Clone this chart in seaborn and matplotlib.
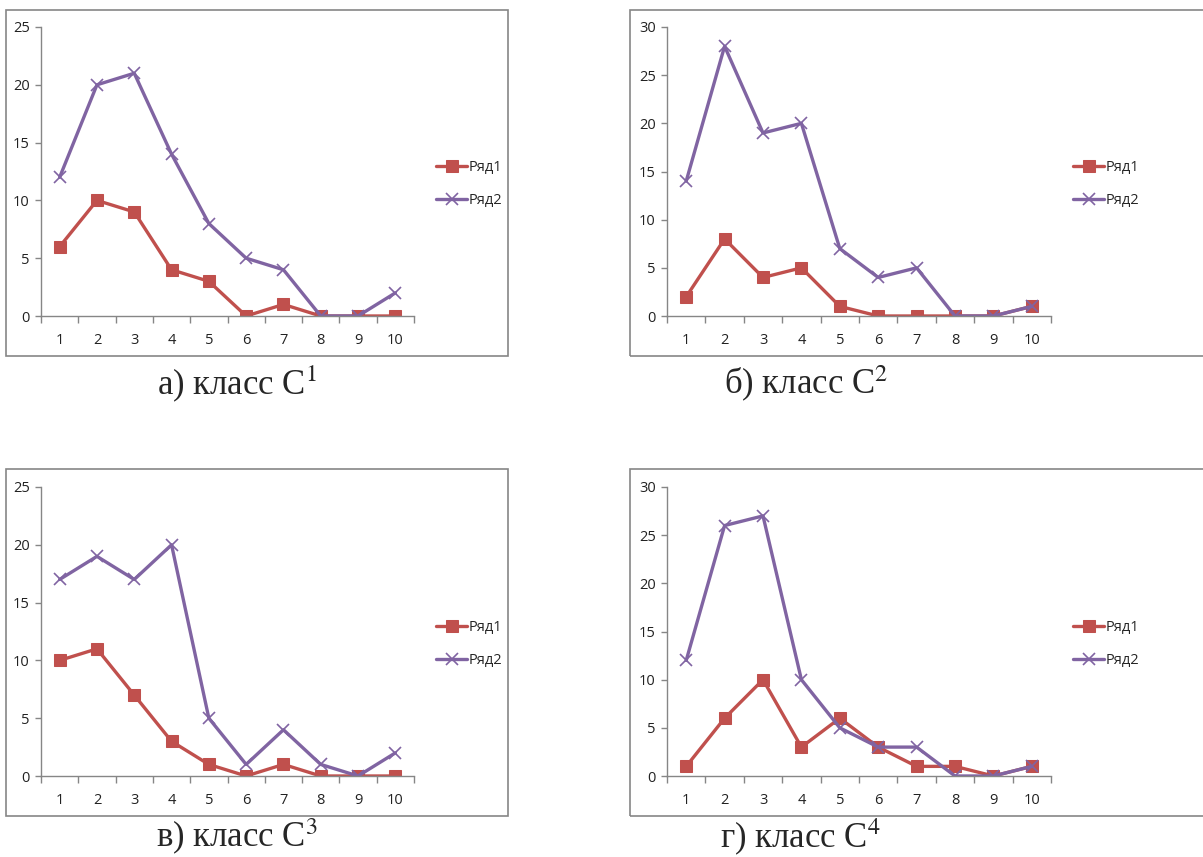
import numpy as np
import pandas as pd
import seaborn as sns
import matplotlib.pyplot as plt
from matplotlib.patches import Rectangle

# Values (classes C1..C4), x = 1..10
x_vals = list(range(1, 11))
c1_r1 = [6, 10, 9, 4, 3, 0, 1, 0, 0, 0]
c1_r2 = [12, 20, 21, 14, 8, 5, 4, 0, 0, 2]
c2_r1 = [2, 8, 4, 5, 1, 0, 0, 0, 0, 1]
c2_r2 = [14, 28, 19, 20, 7, 4, 5, 0, 0, 1]
c3_r1 = [10, 11, 7, 3, 1, 0, 1, 0, 0, 0]
c3_r2 = [17, 19, 17, 20, 5, 1, 4, 1, 0, 2]
c4_r1 = [1, 6, 10, 3, 6, 3, 1, 1, 0, 1]
c4_r2 = [12, 26, 27, 10, 5, 3, 3, 0, 0, 1]
y_max = [25, 30, 25, 30]
captions = ["а) класс C$^{1}$", "б) класс C$^{2}$", "в) класс C$^{3}$", "г) класс C$^{4}$"]
series_names = ["Ряд1", "Ряд2"]

RED = "#C0504D"
PURPLE = "#8064A2"
GREY = "#868686"

W, H = 1203, 857

sns.set_theme(style="white")
plt.rcParams["font.family"] = ["Open Sans", "DejaVu Sans"]
plt.rcParams["mathtext.fontset"] = "stix"


def fx(px):
    return px / W


def fy(py):
    return 1 - py / H


fig = plt.figure(figsize=(W / 100, H / 100), dpi=100)

# panel layout in pixels: (axes left, axes right, axes top, axes bottom, frame box, caption center)
panels = [
    (41, 414, 27, 316, (6, 10, 508, 356), (237, 384)),
    (667, 1051, 27, 316, (630, 10, 1215, 356), (806, 384)),
    (41, 414, 487, 776, (6, 469, 508, 816), (237, 837)),
    (667, 1051, 487, 776, (630, 469, 1215, 816), (800, 837)),
]
data_sets = [(c1_r1, c1_r2), (c2_r1, c2_r2), (c3_r1, c3_r2), (c4_r1, c4_r2)]

for i, (left, right, top, bottom, box, cap) in enumerate(panels):
    # chart frame
    bx0, by0, bx1, by1 = box
    fig.patches.append(
        Rectangle((fx(bx0), fy(by1)), fx(bx1 - bx0), (by1 - by0) / H,
                  transform=fig.transFigure, fill=False, edgecolor=GREY, lw=1.2)
    )
    ax = fig.add_axes([fx(left), fy(bottom), fx(right - left), (bottom - top) / H])
    r1, r2 = data_sets[i]
    df = pd.DataFrame({"x": x_vals, "Ряд1": r1, "Ряд2": r2})
    sns.lineplot(data=df, x="x", y="Ряд1", ax=ax, color=RED, lw=2.4,
                 marker="s", markersize=8.5, markeredgecolor=RED, label="Ряд1")
    sns.lineplot(data=df, x="x", y="Ряд2", ax=ax, color=PURPLE, lw=2.4,
                 marker="x", markersize=8.5, markeredgewidth=1.2,
                 markeredgecolor=PURPLE, label="Ряд2")

    ax.set_xlim(0.5, 10.5)
    ax.set_ylim(0, y_max[i])
    ax.set_yticks(np.arange(0, y_max[i] + 1, 5))
    ax.set_xticks(x_vals)
    ax.set_xticks(np.arange(0.5, 11, 1), minor=True)
    ax.tick_params(axis="x", which="major", length=0, pad=12, labelsize=10.5, labelcolor="#222222")
    ax.tick_params(axis="x", which="minor", length=5, width=1, color=GREY, direction="out", bottom=True)
    ax.tick_params(axis="y", length=4, width=1, color=GREY, direction="out", left=True,
                   pad=4, labelsize=10.5, labelcolor="#222222")
    ax.set_xlabel("")
    ax.set_ylabel("")
    for s in ["top", "right"]:
        ax.spines[s].set_visible(False)
    for s in ["left", "bottom"]:
        ax.spines[s].set_color(GREY)
        ax.spines[s].set_linewidth(1)
    ax.patch.set_alpha(0)

    ax.legend(loc="center left", bbox_to_anchor=(fx(right + 15), fy(top + 157)),
              bbox_transform=fig.transFigure, frameon=False, fontsize=10.5,
              handlelength=2.1, handletextpad=0.1, labelspacing=1.2, borderpad=0)

    fig.text(fx(cap[0]), fy(cap[1]), captions[i], ha="center", va="center",
             fontsize=25, family="Liberation Serif")

fig.savefig("out.png", dpi=100)
